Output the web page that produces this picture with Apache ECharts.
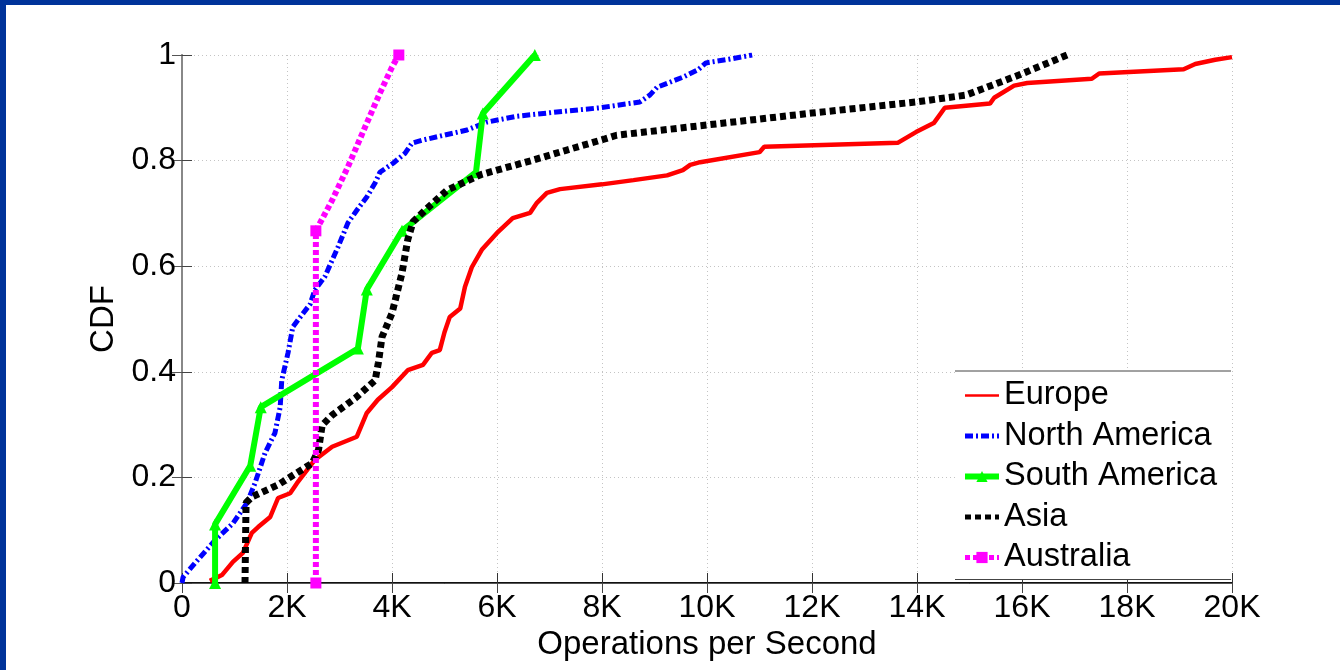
<!DOCTYPE html>
<html>
<head>
<meta charset="utf-8">
<title>CDF of operations per second by region</title>
<script src="https://cdn.jsdelivr.net/npm/echarts@6/dist/echarts.min.js"></script>
<style>
  html, body { margin: 0; padding: 0; background: #ffffff; }
  #chart { width: 1340px; height: 670px; }
</style>
</head>
<body>
<div id="chart"></div>
<script>
// Region names, in drawing / legend order
const regionNames = ['Europe', 'North America', 'South America', 'Asia', 'Australia'];

// [operations per second, cumulative fraction]
const europe = [
  [530, 0.004], [760, 0.015], [970, 0.040], [1160, 0.057], [1330, 0.095], [1450, 0.106],
  [1680, 0.125], [1830, 0.161], [2060, 0.170], [2190, 0.189], [2530, 0.233], [2860, 0.258],
  [3330, 0.277], [3520, 0.322], [3730, 0.347], [4000, 0.371], [4300, 0.403], [4590, 0.413],
  [4760, 0.436], [4910, 0.441], [5000, 0.475], [5100, 0.504], [5300, 0.520], [5390, 0.561],
  [5520, 0.598], [5710, 0.631], [6000, 0.663], [6300, 0.691], [6630, 0.701], [6760, 0.720],
  [6950, 0.739], [7200, 0.746], [8000, 0.755], [8600, 0.763], [9240, 0.772], [9540, 0.782],
  [9680, 0.792], [9870, 0.797], [11000, 0.816], [11090, 0.826], [13640, 0.834], [13980, 0.854],
  [14320, 0.871], [14530, 0.900], [15390, 0.908], [15470, 0.919], [15850, 0.942], [16100, 0.947],
  [17330, 0.955], [17470, 0.965], [19080, 0.973], [19300, 0.983], [19680, 0.991], [20000, 0.996]
];

const northAmerica = [
  [0, 0], [20, 0.011], [250, 0.038], [630, 0.081], [970, 0.113], [1240, 0.152], [1390, 0.189],
  [1580, 0.246], [1770, 0.284], [1870, 0.333], [1900, 0.384], [2020, 0.436], [2110, 0.485],
  [2300, 0.510], [2440, 0.528], [2530, 0.555], [2720, 0.580], [2970, 0.636], [3160, 0.682],
  [3330, 0.706], [3520, 0.731], [3680, 0.758], [3770, 0.778], [4020, 0.795], [4250, 0.814],
  [4380, 0.833], [4590, 0.839], [5430, 0.858], [5810, 0.873], [6380, 0.884], [7330, 0.894],
  [7960, 0.900], [8720, 0.911], [8910, 0.924], [9050, 0.939], [9540, 0.958], [9830, 0.972],
  [9980, 0.985], [10420, 0.992], [10860, 1]
];

const southAmerica = [
  [630, 0], [630, 0.111], [1300, 0.222], [1500, 0.333], [3350, 0.444],
  [3520, 0.556], [4190, 0.667], [5600, 0.778], [5730, 0.889], [6720, 1]
];

const asia = [
  [1200, 0], [1220, 0.152], [1330, 0.163], [1830, 0.186], [2480, 0.227], [2600, 0.252],
  [2670, 0.299], [2860, 0.318], [3300, 0.350], [3680, 0.384], [3740, 0.417], [3810, 0.466],
  [4000, 0.511], [4190, 0.587], [4300, 0.650], [4400, 0.684], [4630, 0.706], [5050, 0.744],
  [5680, 0.773], [6000, 0.782], [6690, 0.801], [7330, 0.820], [8020, 0.840], [8280, 0.848],
  [9870, 0.866], [12000, 0.890], [13980, 0.911], [14930, 0.924], [15280, 0.937], [15940, 0.962],
  [16860, 1]
];

const australia = [
  [2550, 0], [2550, 0.667], [2860, 0.725], [3160, 0.788], [3520, 0.871],
  [3770, 0.928], [4000, 0.977], [4130, 1]
];
// Only the measured samples of the Australia curve carry a marker
const australiaMarkerIdx = [0, 1, 7];

// Axis ticks
const xTicks = [0, 2000, 4000, 6000, 8000, 10000, 12000, 14000, 16000, 18000, 20000];
const yTicks = [0, 0.2, 0.4, 0.6, 0.8, 1];

const FONT = "'Liberation Sans', Arial, Helvetica, sans-serif";

const chart = echarts.init(document.getElementById('chart'), null, { renderer: 'canvas' });

const australiaData = australia.map((p, i) =>
  australiaMarkerIdx.includes(i) ? { value: p } : { value: p, symbol: 'none' }
);

const gridLine = { show: true, lineStyle: { color: '#c4c4c4', width: 1, type: [1, 3] } };

// Line-only legend entries hide the marker the legend would otherwise add
const noMarker = { opacity: 0 };

const option = {
  animation: false,
  backgroundColor: '#ffffff',
  textStyle: { fontFamily: FONT, color: '#000' },
  grid: { left: 182, right: 108, top: 55, bottom: 87, containLabel: false },
  xAxis: [
    {
      type: 'value',
      position: 'bottom',
      min: xTicks[0], max: xTicks[xTicks.length - 1], interval: xTicks[1] - xTicks[0],
      name: 'Operations per Second',
      nameLocation: 'middle',
      nameGap: 38,
      nameTextStyle: { fontSize: 33, color: '#000', fontFamily: FONT },
      axisLine: { show: true, lineStyle: { color: '#111', width: 2 } },
      axisTick: { show: true, inside: true, length: 10, lineStyle: { color: '#333', width: 1 } },
      axisLabel: {
        fontSize: 32, color: '#000', margin: 9, fontFamily: FONT,
        formatter: v => (v === 0 ? '0' : (v / 1000) + 'K')
      },
      splitLine: gridLine
    },
    {
      type: 'value',
      position: 'top',
      min: xTicks[0], max: xTicks[xTicks.length - 1], interval: xTicks[1] - xTicks[0],
      axisLine: { show: true, lineStyle: { color: '#555', width: 1 } },
      axisTick: { show: true, inside: true, length: 10, lineStyle: { color: '#444', width: 1 } },
      axisLabel: { show: false },
      splitLine: { show: false }
    }
  ],
  yAxis: [
    {
      type: 'value',
      position: 'left',
      min: yTicks[0], max: yTicks[yTicks.length - 1], interval: yTicks[1] - yTicks[0],
      name: 'CDF',
      nameLocation: 'middle',
      nameGap: 60,
      nameTextStyle: { fontSize: 33, color: '#000', fontFamily: FONT },
      axisLine: { show: true, lineStyle: { color: '#666', width: 1.5 } },
      axisTick: { show: true, inside: true, length: 10, lineStyle: { color: '#444', width: 1 } },
      axisLabel: { fontSize: 32, color: '#000', margin: 6, fontFamily: FONT },
      splitLine: gridLine
    },
    {
      type: 'value',
      position: 'right',
      min: yTicks[0], max: yTicks[yTicks.length - 1], interval: yTicks[1] - yTicks[0],
      axisLine: { show: true, lineStyle: { color: '#888', width: 2 } },
      axisTick: { show: true, inside: true, length: 10, lineStyle: { color: '#555', width: 1 } },
      axisLabel: { show: false },
      splitLine: { show: false }
    }
  ],
  legend: {
    orient: 'vertical',
    left: 962,
    top: 379,
    itemWidth: 34,
    itemHeight: 14,
    itemGap: 7.5,
    padding: 0,
    textStyle: { fontSize: 32.5, color: '#000', fontFamily: FONT, lineHeight: 32, padding: [0, 0, 0, 0] },
    data: [
      { name: regionNames[0], itemStyle: noMarker, lineStyle: { width: 2.5 } },
      { name: regionNames[1], itemStyle: noMarker, lineStyle: { width: 5 } },
      { name: regionNames[2], lineStyle: { width: 6 } },
      { name: regionNames[3], itemStyle: noMarker, lineStyle: { width: 5 } },
      { name: regionNames[4], lineStyle: { width: 5 } }
    ],
    z: 6
  },
  graphic: [
    // frame around the figure
    { type: 'rect', shape: { x: 0, y: 0, width: 1340, height: 5 }, style: { fill: '#00339a' }, z: 10 },
    { type: 'rect', shape: { x: 0, y: 0, width: 6, height: 670 }, style: { fill: '#00339a' }, z: 10 },
    // legend box
    { type: 'rect', shape: { x: 955, y: 371, width: 276, height: 209 }, style: { fill: '#ffffff' }, z: 3 },
    { type: 'line', shape: { x1: 955, y1: 371, x2: 1231, y2: 371 }, style: { stroke: '#444', lineWidth: 1 }, z: 5 },
    { type: 'line', shape: { x1: 955, y1: 579.5, x2: 1231, y2: 579.5 }, style: { stroke: '#444', lineWidth: 1 }, z: 5 }
  ],
  series: [
    {
      name: regionNames[0], type: 'line', data: europe, showSymbol: false, symbol: 'none',
      lineStyle: { color: '#ff0000', width: 4.5, type: 'solid' },
      itemStyle: { color: '#ff0000' }, z: 2
    },
    {
      name: regionNames[1], type: 'line', data: northAmerica, showSymbol: false, symbol: 'none',
      lineStyle: { color: '#0000ff', width: 5, type: [8, 3, 2, 3], cap: 'butt' },
      itemStyle: { color: '#0000ff' }, z: 3
    },
    {
      name: regionNames[2], type: 'line', data: southAmerica, symbol: 'triangle', symbolSize: 12,
      lineStyle: { color: '#00ff00', width: 6, type: 'solid' },
      itemStyle: { color: '#00ff00' }, z: 4
    },
    {
      name: regionNames[3], type: 'line', data: asia, showSymbol: false, symbol: 'none',
      lineStyle: { color: '#000000', width: 7, type: [6, 4], cap: 'butt' },
      itemStyle: { color: '#000000' }, z: 5
    },
    {
      name: regionNames[4], type: 'line', data: australiaData, symbol: 'rect', symbolSize: 11,
      lineStyle: { color: '#ff00ff', width: 6, type: [5, 3], cap: 'butt' },
      itemStyle: { color: '#ff00ff' }, z: 6
    }
  ]
};

chart.setOption(option);
</script>
</body>
</html>
